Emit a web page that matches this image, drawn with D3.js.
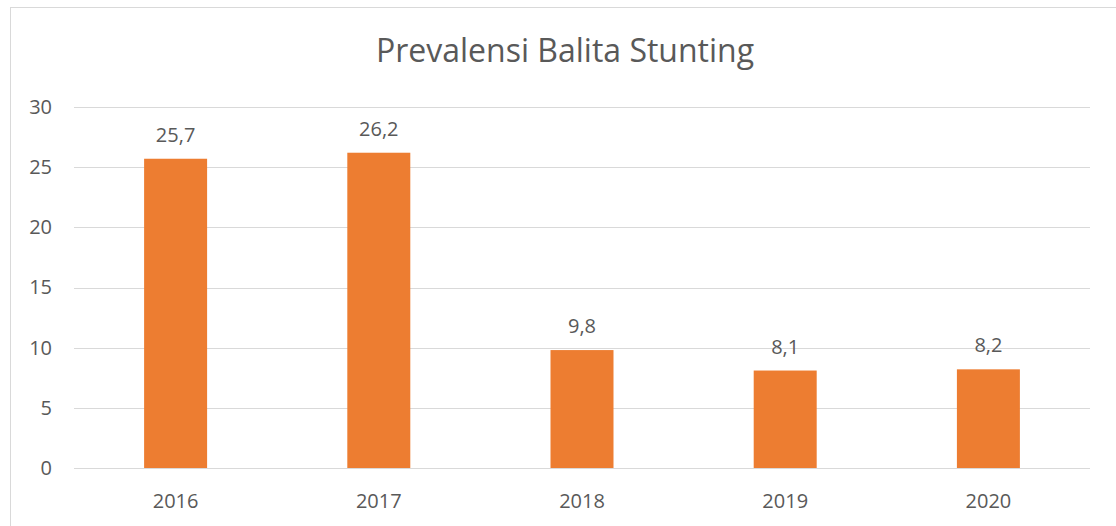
<!DOCTYPE html>
<html>
<head>
<meta charset="utf-8">
<script src="https://cdn.jsdelivr.net/npm/d3@7"></script>
<style>
  body { margin: 0; background: #fff; }
  text { font-family: "Open Sans", sans-serif; fill: #595959; }
</style>
</head>
<body>
<svg id="chart"></svg>
<script>
// chart data
const years = ["2016", "2017", "2018", "2019", "2020"];
const values = [25.7, 26.2, 9.8, 8.1, 8.2];
const yTicks = [0, 5, 10, 15, 20, 25, 30];
const title = "Prevalensi Balita Stunting";

let width = 1116;
let height = 526;
let margin = { left: 74, right: 26, top: 107, bottom: 58 };

let svg = d3.select("#chart").attr("width", width).attr("height", height);

// outer chart frame
svg.append("rect")
    .attr("x", 10.5).attr("y", 7.5)
    .attr("width", width + 20).attr("height", height + 20)
    .attr("fill", "none")
    .attr("stroke", "#d9d9d9");

let xScale = d3.scaleBand()
    .domain(years)
    .range([margin.left, width - margin.right])
    .paddingInner(0.69)
    .paddingOuter(0.345);

let yScale = d3.scaleLinear()
    .domain([0, 30])
    .range([height - margin.bottom, margin.top]);

// gridlines
svg.append("g")
    .selectAll("line")
    .data(yTicks)
    .enter()
    .append("line")
    .attr("x1", margin.left)
    .attr("x2", width - margin.right)
    .attr("y1", d => Math.round(yScale(d)) + 0.5)
    .attr("y2", d => Math.round(yScale(d)) + 0.5)
    .attr("stroke", "#d9d9d9")
    .attr("stroke-width", 1);

// y axis labels
let yAxis = d3.axisLeft(yScale).tickValues(yTicks).tickSize(0).tickPadding(22);
let yG = svg.append("g")
    .attr("transform", `translate(${margin.left}, 0)`)
    .call(yAxis);
yG.select(".domain").remove();
yG.selectAll("text").attr("font-size", 20).attr("font-family", null).style("fill", "#595959");

// x axis labels
let xAxis = d3.axisBottom(xScale).tickSize(0).tickPadding(0);
let xG = svg.append("g")
    .attr("transform", `translate(0, ${height - margin.bottom})`)
    .call(xAxis);
xG.select(".domain").remove();
xG.selectAll("text")
    .attr("dy", null)
    .attr("y", 40)
    .attr("font-size", 20)
    .attr("font-family", null)
    .style("fill", "#595959");

// bars
svg.append("g")
    .selectAll("rect")
    .data(values)
    .enter()
    .append("rect")
    .attr("x", (d, i) => xScale(years[i]))
    .attr("width", xScale.bandwidth())
    .attr("y", d => yScale(d))
    .attr("height", d => yScale(0) - yScale(d))
    .attr("fill", "#ed7d31");

// value labels
svg.append("g")
    .selectAll("text")
    .data(values)
    .enter()
    .append("text")
    .attr("x", (d, i) => xScale(years[i]) + xScale.bandwidth() / 2)
    .attr("y", d => yScale(d) - 17)
    .attr("text-anchor", "middle")
    .attr("font-size", 20)
    .text(d => d.toString().replace(".", ","));

// title
svg.append("text")
    .attr("x", 565)
    .attr("y", 62)
    .attr("text-anchor", "middle")
    .attr("font-size", 32)
    .text(title);
</script>
</body>
</html>
